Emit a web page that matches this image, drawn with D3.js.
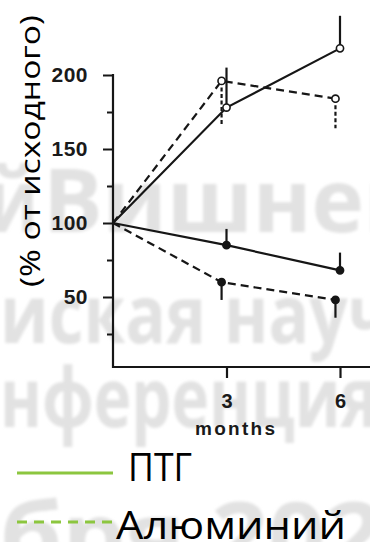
<!DOCTYPE html>
<html><head><meta charset="utf-8">
<script src="https://cdn.jsdelivr.net/npm/d3@7"></script>
<style>html,body{margin:0;padding:0;background:#fff;overflow:hidden}</style>
</head><body><svg id="c" width="370" height="542"></svg>
<script>
// ---- data ----
const months = [0, 3, 6];
const monthsShifted = [0, 2.87, 5.88];
const ptgOpen = [100, 178, 218];
const ptgOpenErr = [null, 205, 240];
const alOpen = [100, 196, 184];
const alOpenErr = [null, 166, 164];
const ptgFilled = [100, 85, 68];
const ptgFilledErr = [null, 96, 80];
const alFilled = [100, 60, 48];
const alFilledErr = [null, 48, 36];
const yTicks = [50, 100, 150, 200];
const yMinorTicks = [25, 75, 125, 175];
const xTicks = [3, 6];
const yLabel = "(% от исходного)";
const xLabel = "months";
const legendLabels = ["ПТГ", "Алюминий"];
const watermarkRows = ["й", "Вишнев", "иская науч", "нференция", "бря 2023"];

// ---- drawing ----
const svg = d3.select("#c");
const defs = svg.append("defs");
defs.append("filter").attr("id", "blur").append("feGaussianBlur").attr("stdDeviation", 1.8);

// watermark
const wmSpec = [
  {x: -12, y: 232, size: 88, len: 50},
  {x: 43, y: 232, size: 88, len: 377},
  {x: 0, y: 343, size: 80, len: 392},
  {x: 0, y: 427, size: 82, len: 378},
  {x: 0, y: 568, size: 92, len: 440}
];
svg.append("g").attr("filter", "url(#blur)")
  .selectAll("text").data(watermarkRows).join("text")
  .attr("x", (d, i) => wmSpec[i].x).attr("y", (d, i) => wmSpec[i].y)
  .attr("font-family", "'Open Sans', sans-serif").attr("font-weight", 700)
  .attr("font-size", (d, i) => wmSpec[i].size)
  .attr("textLength", (d, i) => wmSpec[i].len).attr("lengthAdjust", "spacingAndGlyphs")
  .attr("fill", "#e2e2e2").text(d => d);

const x = d3.scaleLinear().domain([0, 6]).range([113, 340]);
const y = d3.scaleLinear().domain([0, 200]).range([371, 75]);
const axisY = 367;
const ink = "#161616";

// y axis
const gy = svg.append("g").attr("transform", "translate(113,0)");
gy.call(d3.axisLeft(y).tickValues(yTicks).tickSize(10).tickPadding(15).tickFormat(d3.format("d")));
gy.select(".domain").remove();
gy.selectAll(".tick line").attr("stroke", ink).attr("stroke-width", 2);
gy.selectAll(".tick text").attr("font-family", "'Liberation Sans', Arial, sans-serif")
  .attr("font-weight", 700).attr("font-size", 21).attr("fill", "#1a1a1a").attr("letter-spacing", 0.5);
const gym = svg.append("g").attr("transform", "translate(113,0)");
gym.call(d3.axisLeft(y).tickValues(yMinorTicks).tickSize(6).tickFormat(""));
gym.select(".domain").remove();
gym.selectAll(".tick line").attr("stroke", ink).attr("stroke-width", 2);
svg.append("line").attr("x1", 113).attr("x2", 113).attr("y1", y(200) - 1).attr("y2", axisY + 1)
  .attr("stroke", ink).attr("stroke-width", 2.2);

// x axis
const gx = svg.append("g").attr("transform", `translate(0,${axisY})`);
gx.call(d3.axisBottom(x).tickValues(xTicks).tickSize(11).tickPadding(16).tickFormat(d3.format("d")));
gx.select(".domain").remove();
gx.selectAll(".tick line").attr("stroke", ink).attr("stroke-width", 2.2);
gx.selectAll(".tick text").attr("font-family", "'Liberation Sans', Arial, sans-serif")
  .attr("font-weight", 700).attr("font-size", 20).attr("fill", "#1a1a1a");
svg.append("line").attr("x1", 112).attr("x2", 370).attr("y1", axisY).attr("y2", axisY)
  .attr("stroke", ink).attr("stroke-width", 2.2);
svg.append("text").attr("x", 235).attr("y", 435).attr("text-anchor", "middle")
  .attr("font-family", "'Liberation Sans', Arial, sans-serif").attr("font-weight", 700)
  .attr("font-size", 19).attr("textLength", 80).attr("fill", "#1a1a1a").text(xLabel);

// y label
svg.append("text").attr("transform", "translate(40,151) rotate(-90)")
  .attr("text-anchor", "middle").attr("font-family", "'Open Sans', sans-serif")
  .attr("font-size", 28).attr("textLength", 272).attr("lengthAdjust", "spacingAndGlyphs")
  .attr("fill", "#000").text(yLabel);

// series
const series = [
  {xs: months, ys: ptgOpen, err: ptgOpenErr, dash: null, filled: false, errDash: null},
  {xs: monthsShifted, ys: alOpen, err: alOpenErr, dash: "8,5", filled: false, errDash: "4,2.5"},
  {xs: months, ys: ptgFilled, err: ptgFilledErr, dash: null, filled: true, errDash: null},
  {xs: monthsShifted, ys: alFilled, err: alFilledErr, dash: "8,5", filled: true, errDash: null}
];
const line = d3.line().x(d => x(d[0])).y(d => y(d[1]));
series.forEach(s => {
  const pts = s.xs.map((m, i) => [m, s.ys[i], s.err[i]]);
  const g = svg.append("g");
  g.selectAll("line.err").data(pts.filter(p => p[2] != null)).join("line")
    .attr("x1", p => x(p[0])).attr("x2", p => x(p[0]))
    .attr("y1", p => y(p[1])).attr("y2", p => y(p[2]))
    .attr("stroke", ink).attr("stroke-width", 2.2).attr("stroke-dasharray", s.errDash);
  g.append("path").attr("d", line(pts)).attr("fill", "none").attr("stroke", ink)
    .attr("stroke-width", 2.2).attr("stroke-dasharray", s.dash);
  g.selectAll("circle").data(pts.slice(1)).join("circle")
    .attr("cx", p => x(p[0])).attr("cy", p => y(p[1]))
    .attr("r", 3.6)
    .attr("fill", s.filled ? ink : "#fff").attr("stroke", ink).attr("stroke-width", 1.6);
});

// legend
const green = "#8cc63f";
const legend = [
  {y: 473, dash: null, tx: 128, ty: 481, len: 64},
  {y: 522, dash: "10,7", tx: 116, ty: 539, len: 230}
];
legend.forEach((l, i) => {
  svg.append("line").attr("x1", 17).attr("x2", 113).attr("y1", l.y).attr("y2", l.y)
    .attr("stroke", green).attr("stroke-width", 3).attr("stroke-dasharray", l.dash);
  svg.append("text").attr("x", l.tx).attr("y", l.ty)
    .attr("font-family", "'Open Sans', sans-serif").attr("font-size", 38)
    .attr("textLength", l.len).attr("lengthAdjust", "spacingAndGlyphs")
    .attr("fill", "#000").text(legendLabels[i]);
});
</script></body></html>
